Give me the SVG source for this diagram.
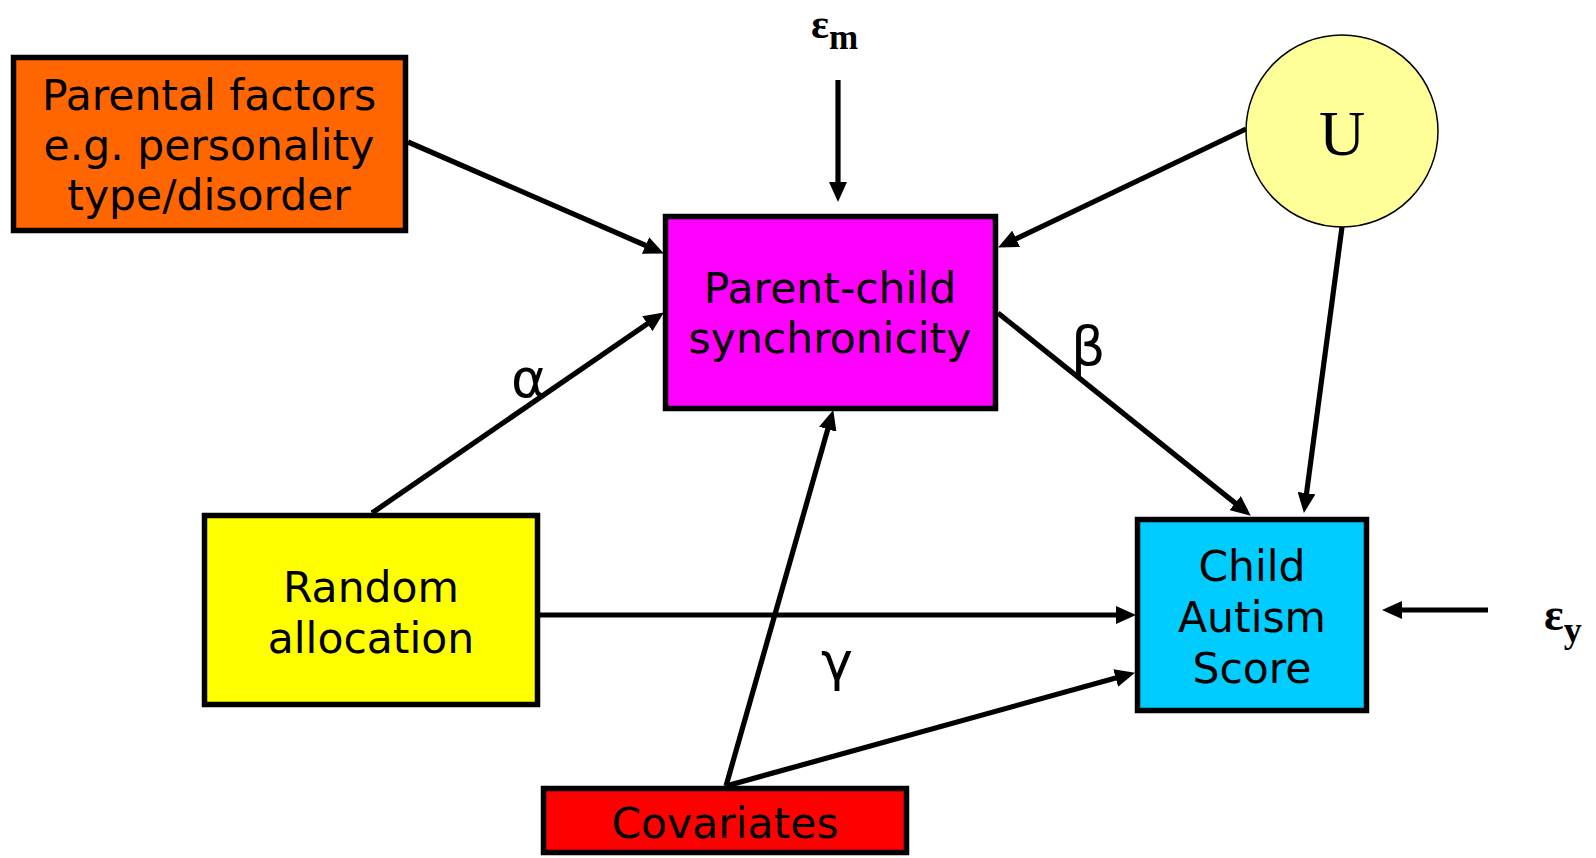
<svg xmlns="http://www.w3.org/2000/svg" width="1596" height="858" viewBox="0 0 1596 858">
  <style>
    .box { stroke: #000; stroke-width: 5.5; }
    .lbl { font-family: "DejaVu Sans", Verdana, sans-serif; font-size: 42.5px; fill: #000; text-anchor: middle; }
    .greek { font-family: "DejaVu Sans", Verdana, sans-serif; font-size: 54px; fill: #000; }
    .err { font-family: "Liberation Serif", "Times New Roman", serif; font-weight: bold; fill: #000; }
    .edge { stroke: #000; stroke-width: 5.2; fill: none; marker-end: url(#arrow); }
  </style>
  <defs>
    <marker id="arrow" markerUnits="userSpaceOnUse" markerWidth="20" markerHeight="18" viewBox="0 0 20 18" refX="14" refY="9" orient="auto">
      <path d="M0,0 L20,9 L0,18 z" fill="#000"/>
    </marker>
  </defs>
  <rect width="1596" height="858" fill="#fff"/>

  <!-- nodes -->
  <g id="parental-factors">
    <rect class="box" x="13.5" y="57.5" width="392" height="173" fill="#FF6600"/>
    <text class="lbl" x="209" y="110">Parental factors</text>
    <text class="lbl" x="209" y="160">e.g. personality</text>
    <text class="lbl" x="209" y="210">type/disorder</text>
  </g>
  <g id="parent-child-synchronicity">
    <rect class="box" x="665.5" y="216.5" width="330" height="192" fill="#FF00FF"/>
    <text class="lbl" x="830" y="303">Parent-child</text>
    <text class="lbl" x="830" y="353">synchronicity</text>
  </g>
  <g id="random-allocation">
    <rect class="box" x="204.5" y="515.5" width="333" height="189" fill="#FFFF00"/>
    <text class="lbl" x="371" y="602">Random</text>
    <text class="lbl" x="371" y="653">allocation</text>
  </g>
  <g id="child-autism-score">
    <rect class="box" x="1137.5" y="519.5" width="229" height="191" fill="#00CCFF"/>
    <text class="lbl" x="1252" y="581">Child</text>
    <text class="lbl" x="1252" y="632">Autism</text>
    <text class="lbl" x="1252" y="683">Score</text>
  </g>
  <g id="covariates">
    <rect class="box" x="543.5" y="788.5" width="363" height="64" fill="#FF0000"/>
    <text class="lbl" x="725" y="838">Covariates</text>
  </g>
  <g id="unmeasured">
    <circle cx="1342" cy="131" r="96" fill="#FFFF99" stroke="#000" stroke-width="1.5"/>
    <text x="1342" y="155" font-family="Liberation Serif, 'Times New Roman', serif" font-size="64" text-anchor="middle" fill="#000">U</text>
  </g>
  <g id="error-m">
    <text class="err" x="811" y="38" font-size="42">ε<tspan font-size="35" dy="11">m</tspan></text>
  </g>
  <g id="error-y">
    <text class="err" x="1544" y="630" font-size="46">ε<tspan font-size="36" dy="12">y</tspan></text>
  </g>

  <!-- connectors -->
  <g id="connectors">
    <line class="edge" x1="408" y1="142" x2="658.4" y2="251"/>
    <line class="edge" x1="372" y1="513" x2="658.9" y2="315.8"/>
    <line class="edge" x1="838" y1="80" x2="838" y2="196"/>
    <line class="edge" x1="1246" y1="129" x2="1003.5" y2="244.8"/>
    <line class="edge" x1="998" y1="313" x2="1246.1" y2="511.9"/>
    <line class="edge" x1="1342" y1="227" x2="1304.7" y2="507"/>
    <line class="edge" x1="540" y1="615" x2="1130" y2="615"/>
    <line class="edge" x1="726" y1="786" x2="831.6" y2="415.8"/>
    <line class="edge" x1="726" y1="786" x2="1129.2" y2="674.3"/>
    <line class="edge" x1="1488" y1="610" x2="1388" y2="610"/>
  </g>

  <!-- path coefficients -->
  <g id="coefficients">
    <text class="greek" x="511" y="397">α</text>
    <text class="greek" x="1071" y="365">β</text>
    <text class="greek" x="821" y="680">γ</text>
  </g>
</svg>
